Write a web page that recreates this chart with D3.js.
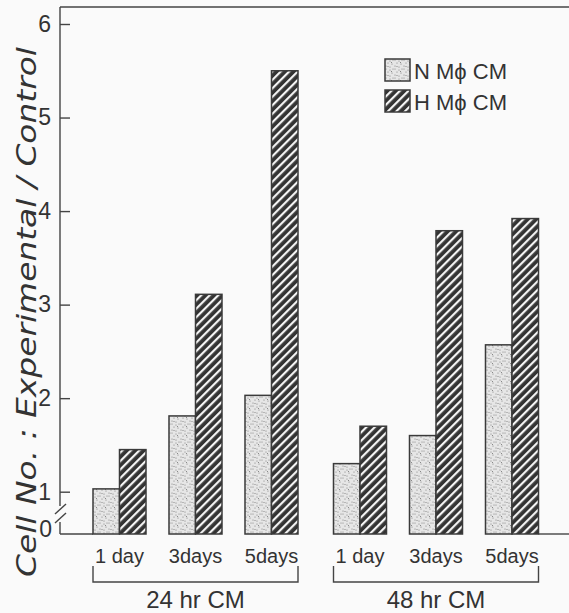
<!DOCTYPE html>
<html>
<head>
<meta charset="utf-8">
<script src="https://cdn.jsdelivr.net/npm/d3@7"></script>
<style>
  body { margin: 0; background: #fafafa; }
  svg text { font-family: "Liberation Sans", Arial, sans-serif; fill: #333; }
</style>
</head>
<body>
<div id="chart"></div>
<script>
const groups = ["24 hr CM", "48 hr CM"]
const days = ["1 day", "3 days", "5 days"]
const dayLabels = ["1 day", "3days", "5days"]
const series = ["N", "H"]
const seriesLabels = ["N M\u03d5 CM", "H M\u03d5 CM"]
const nValues = [1.03, 1.81, 2.03, 1.30, 1.60, 2.57]
const hValues = [1.45, 3.11, 5.50, 1.70, 3.79, 3.92]
const yTicks = [1, 2, 3, 4, 5, 6]

drawChart("#chart")

function drawChart(id){
    const canvas = createCanvas()
    const data = buildData()
    const svg = d3.select(id).append("svg")
      .attr("width", canvas.width).attr("height", canvas.height)

    addPatterns(svg)
    const sc = addScales(canvas)
    addFrame(svg, sc, canvas)
    addBars(svg, sc, data, canvas)
    addYAxis(svg, sc, canvas)
    addXLabels(svg, sc, canvas)
    addLegend(svg)
    addTitle(svg, canvas)
}

function createCanvas(){
    return { width: 569, height: 613, left: 60, top: 7, bottom: 534, right: 569 }
}

function buildData(){
    const rows = []
    groups.forEach((g, gi) => days.forEach((d, di) => {
        const i = gi * days.length + di
        rows.push({group: g, day: d, series: "N", value: nValues[i]})
        rows.push({group: g, day: d, series: "H", value: hValues[i]})
    }))
    return rows
}

function addScales(canvas){
    const yScale = d3.scaleLinear().domain([1, 6]).range([491.7, 24])
    const groupScale = d3.scaleBand().domain(groups).range([93, 538.5])
      .paddingInner(0.1476).paddingOuter(0)
    const dayScale = d3.scaleBand().domain(days).range([0, groupScale.bandwidth()])
      .paddingInner(0.3026).paddingOuter(0)
    const seriesScale = d3.scaleBand().domain(series).range([0, dayScale.bandwidth()])
    return {yScale, groupScale, dayScale, seriesScale}
}

function addPatterns(svg){
    const defs = svg.append("defs")

    const hatch = defs.append("pattern").attr("id", "hatch")
      .attr("patternUnits", "userSpaceOnUse").attr("width", 6).attr("height", 6)
      .attr("patternTransform", "rotate(45)")
    hatch.append("rect").attr("width", 6).attr("height", 6).attr("fill", "#333")
    hatch.append("rect").attr("x", 2).attr("width", 2.2).attr("height", 6).attr("fill", "#f4f4f4")

    const dots = defs.append("pattern").attr("id", "stipple")
      .attr("patternUnits", "userSpaceOnUse").attr("width", 9).attr("height", 9)
    dots.append("rect").attr("width", 9).attr("height", 9).attr("fill", "#e6e6e6")
    const pts = [[1,1],[5,2],[3,4],[7,5],[1,7],[5,8],[8,1],[3,7.5],[6.5,3.5]]
    pts.forEach(p => dots.append("circle").attr("cx", p[0]).attr("cy", p[1])
      .attr("r", 0.55).attr("fill", "#777"))
}

function addFrame(svg, sc, canvas){
    const g = svg.append("g").attr("stroke", "#444").attr("stroke-width", 1.4).attr("fill", "none")
    g.append("line").attr("x1", canvas.left).attr("x2", canvas.right)
      .attr("y1", canvas.top).attr("y2", canvas.top)
    g.append("line").attr("x1", canvas.left).attr("x2", canvas.left)
      .attr("y1", canvas.top).attr("y2", 506)
    g.append("line").attr("x1", canvas.left).attr("x2", canvas.left)
      .attr("y1", 522).attr("y2", canvas.bottom)
    g.append("line").attr("x1", 55).attr("y1", 514).attr("x2", 66).attr("y2", 504)
    g.append("line").attr("x1", 55).attr("y1", 523).attr("x2", 66).attr("y2", 513)

    const first = sc.groupScale(groups[0])
    const last = sc.groupScale(groups[1]) + sc.groupScale.bandwidth()
    g.append("line").attr("x1", canvas.left).attr("x2", first)
      .attr("y1", canvas.bottom).attr("y2", canvas.bottom)
    g.append("line").attr("x1", last).attr("x2", canvas.right)
      .attr("y1", canvas.bottom).attr("y2", canvas.bottom)
}

function barX(sc, d){
    return sc.groupScale(d.group) + sc.dayScale(d.day) + sc.seriesScale(d.series)
}

function addBars(svg, sc, data, canvas){
    svg.append("g").selectAll("rect").data(data).enter()
      .append("rect")
      .attr("x", d => barX(sc, d))
      .attr("y", d => sc.yScale(d.value))
      .attr("width", sc.seriesScale.bandwidth())
      .attr("height", d => canvas.bottom - sc.yScale(d.value))
      .attr("fill", d => d.series === "N" ? "url(#stipple)" : "url(#hatch)")
      .attr("stroke", "#3a3a3a").attr("stroke-width", 1.5)
}

function addYAxis(svg, sc, canvas){
    const ax = svg.append("g").attr("transform", `translate(${canvas.left},0)`)
      .call(d3.axisLeft(sc.yScale).tickValues(yTicks).tickFormat(d3.format("d"))
        .tickSizeInner(-10).tickSizeOuter(0).tickPadding(9))
    ax.select(".domain").remove()
    ax.selectAll(".tick line").attr("stroke", "#444").attr("stroke-width", 1.4)
    ax.attr("font-size", 23).attr("font-family", "Liberation Sans, Arial, sans-serif")
    ax.selectAll(".tick text").style("font-size", "23px").attr("fill", "#333")

    svg.append("text").attr("x", 52).attr("y", 537)
      .attr("text-anchor", "end").style("font-size", "23px").text("0")
}

function addXLabels(svg, sc, canvas){
    const g = svg.append("g")
    groups.forEach(gr => days.forEach((d, di) => {
        g.append("text")
          .attr("x", sc.groupScale(gr) + sc.dayScale(d) + sc.dayScale.bandwidth() / 2)
          .attr("y", 563).attr("text-anchor", "middle").style("font-size", "20px")
          .text(dayLabels[di])
    }))

    groups.forEach(gr => {
        const x0 = sc.groupScale(gr), x1 = x0 + sc.groupScale.bandwidth()
        g.append("path")
          .attr("d", `M${x0},566V582H${x1}V566`)
          .attr("fill", "none").attr("stroke", "#444").attr("stroke-width", 1.4)
        g.append("text").attr("x", (x0 + x1) / 2).attr("y", 608)
          .attr("text-anchor", "middle").style("font-size", "24px").text(gr)
    })
}

function addLegend(svg){
    const lg = svg.append("g").attr("transform", "translate(385,59)")
    series.forEach((s, i) => {
        lg.append("rect").attr("x", 0).attr("y", i * 31).attr("width", 25).attr("height", 22)
          .attr("fill", s === "N" ? "url(#stipple)" : "url(#hatch)")
          .attr("stroke", "#3a3a3a").attr("stroke-width", 1.5)
        lg.append("text").attr("x", 29).attr("y", i * 31 + 20)
          .style("font-size", "22px").text(seriesLabels[i])
    })
}

function addTitle(svg, canvas){
    svg.append("text")
      .attr("transform", "translate(36,312) rotate(-90)")
      .attr("text-anchor", "middle").style("font-size", "26px")
      .attr("font-style", "italic").attr("fill", "#444")
      .style("font-family", "'DejaVu Sans Condensed', 'Liberation Sans Narrow', sans-serif")
      .attr("font-weight", 300)
      .attr("textLength", 530).attr("lengthAdjust", "spacingAndGlyphs")
      .text("Cell No. : Experimental / Control")
}
</script>
</body>
</html>
